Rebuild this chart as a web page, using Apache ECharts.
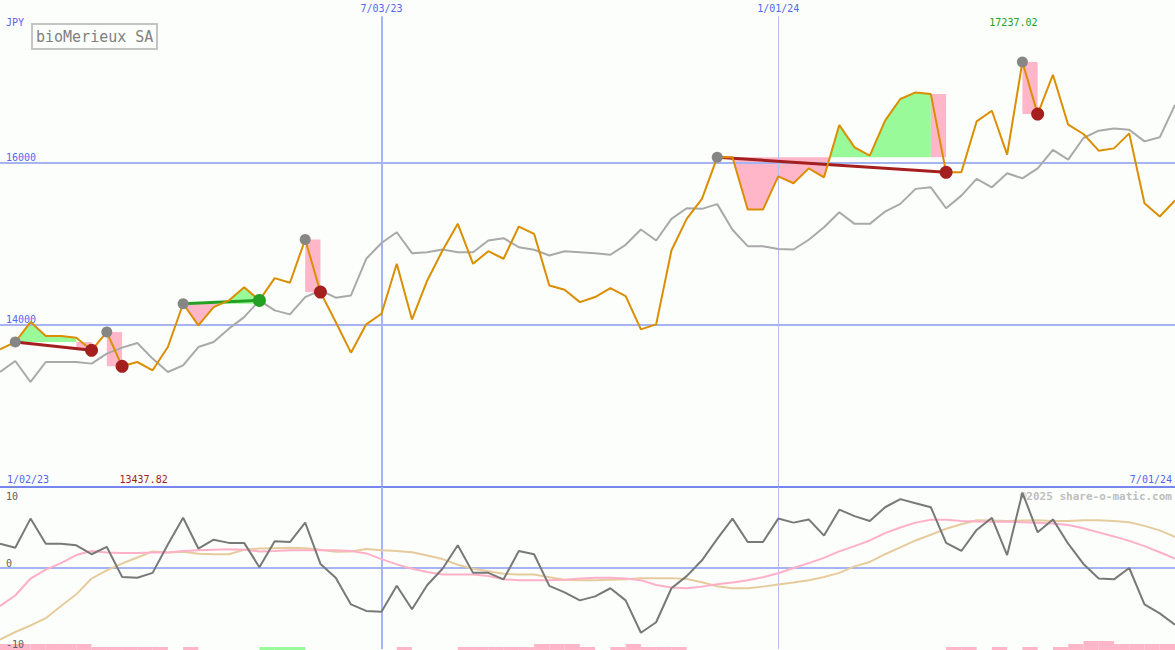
<!DOCTYPE html>
<html><head><meta charset="utf-8">
<script src="https://cdn.jsdelivr.net/npm/echarts@6/dist/echarts.min.js"></script>
<style>html,body{margin:0;padding:0;background:#fcfefc}#c{width:1175px;height:650px}</style>
</head><body><div id="c"></div>
<script>
// ---------------- data ----------------
const titleText = 'bioMerieux SA';
const currency = 'JPY';
const copyright = '\u00a92025 share-o-matic.com';
const rangeLabels = ['1/02/23', '7/01/24'];
const dateLines = ['2023-07-03', '2024-01-01'];
const dateLineLabels = ['7/03/23', '1/01/24'];
const priceTicks = [14000, 16000];
const oscTicks = [10, 0, -10];

// weekly dates (categories)
const dates = [];
for (let k = 0; k < 78; k++) dates.push(new Date(Date.UTC(2023, 0, 9 + 7 * k)).toISOString().slice(0, 10));

const price = [13696,13786,14032,13860,13860,13840,13684,13909,13487,13540,
13437.82,13725,14258,13991,14217,14299,14462,14299,14573,14516,
15049,14401,14032,13655,14004,14135,14750,14065,14545,14914,
15242,14750,14905,14812,15209,15119,14483,14430,14278,14340,
14450,14352,13942,14004,14914,15304,15550,16062,16062,15418,
15418,15828,15742,15926,15816,16460,16185,16082,16513,16780,
16861,16841,15877,15877,16504,16636,16095,17237.02,16595,17079,
16464,16349,16144,16172,16357,15496,15332,15529];

const avg = [13417,13552,13294,13540,13540,13540,13520,13643,13717,13774,
13582,13417,13499,13724,13786,13951,14093,14299,14176,14127,
14339,14422,14332,14360,14812,15006,15139,14881,14893,14926,
14893,14893,15037,15065,14954,14923,14852,14905,14893,14881,
14861,14984,15172,15037,15304,15434,15427,15485,15169,14967,
14967,14932,14926,15046,15200,15385,15242,15242,15394,15488,
15673,15692,15434,15590,15796,15692,15865,15803,15926,16153,
16033,16300,16390,16418,16402,16258,16308,16706];

const osc = [3.0,2.5,6.1,3.0,3.0,2.8,1.7,2.6,-1.1,-1.2,
-0.6,2.9,6.2,2.4,3.5,3.1,3.1,0.1,3.3,3.2,
5.6,0.5,-1.2,-4.5,-5.3,-5.4,-2.2,-5.1,-2.1,-0.1,
2.8,-0.6,-0.6,-1.4,2.1,1.7,-2.2,-3.0,-4.0,-3.5,
-2.5,-4.0,-8.0,-6.7,-2.5,-1.0,0.95,3.6,6.1,3.2,
3.2,6.1,5.6,6.0,4.0,7.2,6.4,5.8,7.5,8.5,
8.0,7.5,3.1,2.1,4.7,6.2,1.6,9.3,4.4,6.0,
3.0,0.5,-1.3,-1.4,0,-4.5,-5.6,-7.0];

const oscFast = [-4.7,-3.4,-1.3,-0.2,0.6,1.6,2.1,1.9,1.85,1.85,
1.9,1.9,2.1,2.2,2.25,2.3,2.25,2.05,2.1,2.2,
2.2,2.2,2.2,2.1,1.8,1.1,0.45,-0.1,-0.5,-0.8,
-0.8,-0.8,-1.0,-1.4,-1.5,-1.5,-1.5,-1.45,-1.3,-1.2,
-1.2,-1.3,-1.5,-2.1,-2.4,-2.5,-2.3,-2.0,-1.8,-1.5,
-1.15,-0.65,0,0.6,1.25,2.05,2.7,3.4,4.3,5.0,
5.6,5.95,5.95,5.8,5.75,5.7,5.7,5.65,5.6,5.5,
5.3,4.9,4.4,3.9,3.35,2.7,1.95,1.15];

const oscSlow = [-8.85,-7.9,-7.1,-6.2,-4.7,-3.25,-1.3,-0.3,0.55,1.3,
2.05,1.9,2.0,1.75,1.7,1.7,2.25,2.4,2.45,2.5,
2.45,2.25,2.0,2.05,2.35,2.2,2.1,1.95,1.55,1.1,
0.4,-0.1,-0.4,-0.7,-0.8,-0.8,-1.15,-1.45,-1.5,-1.5,
-1.45,-1.4,-1.25,-1.25,-1.25,-1.35,-1.75,-2.25,-2.5,-2.5,
-2.3,-2.05,-1.8,-1.5,-1.1,-0.6,0.2,0.75,1.7,2.55,
3.4,4.1,4.85,5.4,5.9,5.85,5.8,5.85,5.9,5.8,
5.8,5.9,5.9,5.8,5.65,5.2,4.65,3.85];

// per-week strip at the bottom (segment k -> k+1)
const bearBars = [2,2,2,2,2,2,1,1,1,1,
1,0,1,0,0,0,0,0,0,0,
0,0,0,0,0,0,1,0,0,0,
1,1,1,1,1,2,2,2,1,0,
1,2,1,1,1,0,0,0,0,0,
0,0,0,0,0,0,0,0,0,0,
0,0,1,1,0,1,0,1,0,1,
2,3,3,2,2,2,2];
const bullBars = [0,0,0,0,0,0,0,0,0,0,
0,0,0,0,0,0,0,1,1,1,
0,0,0,0,0,0,0,0,0,0,
0,0,0,0,0,0,0,0,0,0,
0,0,0,0,0,0,0,0,0,0,
0,0,0,0,0,0,0,0,0,0,
0,0,0,0,0,0,0,0,0,0,
0,0,0,0,0,0,0];

// signals: start (peak marker) -> end (signal marker)
const signals = [
  {start: 1, end: 6, kind: 'sell'},
  {start: 7, end: 8, kind: 'sell'},
  {start: 12, end: 17, kind: 'buy'},
  {start: 20, end: 21, kind: 'sell'},
  {start: 47, end: 62, kind: 'sell'},
  {start: 67, end: 68, kind: 'sell'}
];

// ---------------- styles ----------------
const MONO = '"DejaVu Sans Mono", "Liberation Mono", monospace';
const C = {
  blueText: '#5366ee', grid: '#a6b4f2', sep: '#7686ee',
  price: '#da8e00', avg: '#a9a9a9', osc: '#787878', fast: '#ffb0c8', slow: '#e6cc9c',
  pink: '#ffb6c9', green: '#98fa98', red: '#a51f1f', greenDot: '#24a024', greyDot: '#868686'
};

// ---------------- fill polygons (data space) ----------------
const polys = [];
function addBandFill(a, b, L) {
  if (b <= a) return;
  const pts = [[a, price[a]]];
  for (let k = a; k < b; k++) {
    const d0 = price[k] - L, d1 = price[k + 1] - L;
    if (d0 * d1 < 0) pts.push([k + d0 / (d0 - d1), L]);
    pts.push([k + 1, price[k + 1]]);
  }
  let run = [], sign = 0;
  const flush = () => {
    if (run.length > 1 && sign !== 0) {
      polys.push({pts: [[run[0][0], L], ...run, [run[run.length - 1][0], L]], color: sign > 0 ? C.green : C.pink});
    }
  };
  for (const p of pts) {
    const s = Math.sign(p[1] - L);
    if (s === 0) { if (run.length) { run.push(p); flush(); } run = [p]; sign = 0; continue; }
    if (sign === 0 || s === sign) { sign = s; run.push(p); }
    else { flush(); run = [p]; sign = s; }
  }
  flush();
}
signals.forEach(s => {
  const L = price[s.start];
  if (s.kind === 'sell') {
    addBandFill(s.start, s.end - 1, L);
    const a = s.end - 1, b = s.end;
    // block for the final drop: the larger side of the level crossing
    const up = Math.max(price[a] - L, 0), down = Math.max(L - price[b], 0);
    const top = up > down ? price[a] : L;
    const bot = up > down ? L : price[b];
    polys.push({pts: [[a, top], [b, top], [b, bot], [a, bot]], color: C.pink});
  } else {
    addBandFill(s.start, s.end, L);
  }
});

const xy = arr => arr.map((v, i) => [i, v]);
const xAxisBase = {type: 'value', min: 0, max: 77, show: false};

const option = {
  backgroundColor: '#fcfefc',
  animation: false,
  title: {
    text: titleText, left: 32, top: 24, padding: [5, 4, 4, 4],
    borderColor: '#c4c4c4', borderWidth: 2, backgroundColor: '#fcfefc',
    textStyle: {fontFamily: MONO, fontSize: 15, fontWeight: 'normal', color: '#808080', lineHeight: 16}
  },
  grid: [
    {left: 0, right: 0, top: -1, height: 488},
    {left: 0, right: 0, top: 487, height: 162},
    {left: 0, right: 0, top: 638, height: 12}
  ],
  xAxis: [
    Object.assign({}, xAxisBase, {gridIndex: 0}),
    {
      type: 'value', gridIndex: 1, min: 0, max: 77, interval: 77, position: 'top',
      axisLine: {show: false}, axisTick: {show: false}, splitLine: {show: false},
      axisLabel: {
        show: true, margin: 3, color: C.blueText, fontFamily: MONO, fontSize: 10,
        alignMinLabel: 'left', alignMaxLabel: 'right',
        formatter: v => v === 0 ? '{l|' + rangeLabels[0] + '}' : (v === 77 ? '{r|' + rangeLabels[1] + '}' : ''),
        rich: {l: {padding: [0, 0, 0, 7], color: C.blueText, fontFamily: MONO, fontSize: 10},
               r: {padding: [0, 3, 0, 0], color: C.blueText, fontFamily: MONO, fontSize: 10}}
      }
    },
    Object.assign({}, xAxisBase, {gridIndex: 2})
  ],
  yAxis: [
    {
      type: 'value', gridIndex: 0, min: 12000, max: 18000, interval: 2000,
      axisLine: {show: false}, axisTick: {show: false}, splitLine: {show: false},
      name: currency, nameLocation: 'end', nameGap: -22,
      nameTextStyle: {align: 'left', verticalAlign: 'middle', padding: [0, 0, 0, 6], color: C.blueText, fontFamily: MONO, fontSize: 10},
      axisLabel: {inside: true, margin: 6, verticalAlign: 'bottom', color: C.blueText, fontFamily: MONO, fontSize: 10,
        formatter: v => priceTicks.includes(v) ? String(v) : ''}
    },
    {
      type: 'value', gridIndex: 1, min: -10, max: 10, interval: 10, z: 20,
      axisLine: {show: false}, axisTick: {show: false}, splitLine: {show: false},
      axisLabel: {inside: true, margin: 6, verticalAlign: 'bottom', color: '#606060', fontFamily: MONO, fontSize: 10,
        formatter: v => (oscTicks.includes(v) && v !== 10) ? String(v) : ''}
    },
    {
      type: 'value', gridIndex: 1, min: -10, max: 10, interval: 10, position: 'left', z: 20,
      axisLine: {show: false}, axisTick: {show: false}, splitLine: {show: false},
      axisLabel: {inside: true, margin: 6, verticalAlign: 'top', padding: [4, 0, 0, 0], color: '#606060', fontFamily: MONO, fontSize: 10,
        formatter: v => v === 10 ? '10' : ''}
    },
    {type: 'value', gridIndex: 2, min: 0, max: 4, show: false}
  ],
  series: []
};

// fills
option.series.push({
  type: 'custom', xAxisIndex: 0, yAxisIndex: 0, z: 1, silent: true,
  data: polys.map(p => [p.pts[0][0], p.pts[0][1]]),
  renderItem: (params, api) => {
    const p = polys[params.dataIndex];
    return {type: 'polygon', shape: {points: p.pts.map(q => api.coord(q))}, style: {fill: p.color}};
  }
});

// avg line + upper panel reference lines
option.series.push({
  type: 'line', xAxisIndex: 0, yAxisIndex: 0, z: 3, symbol: 'none', silent: true,
  data: xy(avg), lineStyle: {color: C.avg, width: 2},
  markLine: {
    z: 2, silent: true, symbol: 'none', animation: false, label: {show: false},
    data: [
      ...priceTicks.map(v => ({yAxis: v, lineStyle: {color: C.grid, width: 2, type: 'solid'}})),
      ...dateLines.map((d, i) => [
        {coord: [dates.indexOf(d), 17800],
         lineStyle: {color: i === 0 ? C.grid : '#b4bdee', width: i === 0 ? 2 : 1, type: 'solid'},
         label: {show: true, position: 'start', distance: 3, formatter: dateLineLabels[i], color: C.blueText, fontFamily: MONO, fontSize: 10}},
        {coord: [dates.indexOf(d), 12000]}
      ])
    ]
  }
});

// signal connecting lines
signals.filter(s => s.end - s.start > 1).forEach(s => {
  option.series.push({
    type: 'line', xAxisIndex: 0, yAxisIndex: 0, z: 3, symbol: 'none', silent: true,
    data: [[s.start, price[s.start]], [s.end, price[s.end]]],
    lineStyle: {color: s.kind === 'sell' ? C.red : C.greenDot, width: 3}
  });
});

// price line
option.series.push({
  type: 'line', xAxisIndex: 0, yAxisIndex: 0, z: 3, symbol: 'none', silent: true,
  data: xy(price), lineStyle: {color: C.price, width: 2}
});

// markers
option.series.push({
  type: 'scatter', xAxisIndex: 0, yAxisIndex: 0, z: 4, silent: true, symbolSize: 11,
  itemStyle: {color: C.greyDot, opacity: 1},
  data: signals.map(s => [s.start, price[s.start]])
});
option.series.push({
  type: 'scatter', xAxisIndex: 0, yAxisIndex: 0, z: 5, silent: true, symbolSize: 13,
  itemStyle: {opacity: 1},
  data: signals.map(s => ({value: [s.end, price[s.end]], itemStyle: {color: s.kind === 'sell' ? C.red : C.greenDot, opacity: 1}}))
});

// lower panel
const dateMarks = dateLines.map((d, i) => ({xAxis: dates.indexOf(d),
  lineStyle: {color: i === 0 ? C.grid : '#b4bdee', width: i === 0 ? 2 : 1, type: 'solid'}}));
option.series.push({
  type: 'line', xAxisIndex: 1, yAxisIndex: 1, z: 3, symbol: 'none', silent: true,
  data: xy(oscSlow), lineStyle: {color: C.slow, width: 2},
  markLine: {
    z: 2, silent: true, symbol: 'none', animation: false, label: {show: false},
    data: [
      {yAxis: 0, lineStyle: {color: C.grid, width: 2, type: 'solid'}},
      {yAxis: 10, lineStyle: {color: C.sep, width: 2, type: 'solid'}},
      ...dateMarks
    ]
  }
});
option.series.push({
  type: 'line', xAxisIndex: 1, yAxisIndex: 1, z: 3, symbol: 'none', silent: true,
  data: xy(oscFast), lineStyle: {color: C.fast, width: 2}
});
option.series.push({
  type: 'line', xAxisIndex: 1, yAxisIndex: 1, z: 3, symbol: 'none', silent: true,
  data: xy(osc), lineStyle: {color: C.osc, width: 2}
});

// bottom strip
const strip = [];
bearBars.forEach((h, k) => { if (h) strip.push([k, h, 0]); });
bullBars.forEach((h, k) => { if (h) strip.push([k, h, 1]); });
option.series.push({
  type: 'custom', xAxisIndex: 2, yAxisIndex: 3, z: 1, silent: true,
  data: strip,
  renderItem: (params, api) => {
    const k = api.value(0), h = api.value(1), kind = api.value(2);
    const p0 = api.coord([k, h]), p1 = api.coord([k + 1, 0]);
    return {type: 'rect', shape: {x: p0[0], y: p0[1], width: p1[0] - p0[0], height: p1[1] - p0[1]},
      style: {fill: kind ? C.green : C.pink}};
  }
});

const chart = echarts.init(document.getElementById('c'), null, {renderer: 'svg'});
chart.setOption(option);

// value labels for extremes + copyright
const maxV = Math.max(...price), minV = Math.min(...price);
const xMax = chart.convertToPixel({xAxisIndex: 0}, price.indexOf(maxV));
const xMin = chart.convertToPixel({xAxisIndex: 0}, price.indexOf(minV));
chart.setOption({graphic: [
  {type: 'text', x: xMax - 9, y: 22, z: 10, silent: true,
   style: {text: maxV.toFixed(2), fill: '#22a022', fontFamily: MONO, fontSize: 10, align: 'center', verticalAlign: 'middle'}},
  {type: 'text', x: xMin - 9, y: 479, z: 10, silent: true,
   style: {text: minV.toFixed(2), fill: '#a01e1e', fontFamily: MONO, fontSize: 10, align: 'center', verticalAlign: 'middle'}},
  {type: 'text', x: 1172, y: 496, z: 0, silent: true,
   style: {text: copyright, fill: '#bebebe', fontFamily: MONO, fontSize: 11, fontWeight: 'bold', align: 'right', verticalAlign: 'middle'}}
]});
</script>
</body></html>
